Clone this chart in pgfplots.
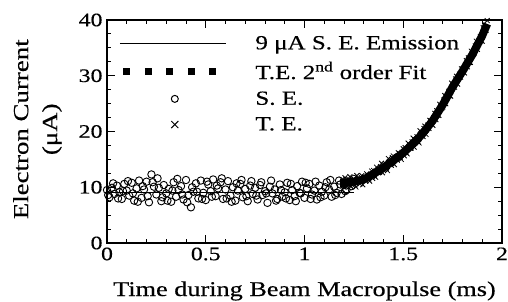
\documentclass[border=0pt]{standalone}
\usepackage{pgfplots}
\pgfplotsset{compat=1.18}
\usepackage{fontspec}
\setmainfont{Liberation Serif}[FakeStretch=1.25, FakeBold=0.4]

\pgfplotstableread{
t y
0.000 9.5
0.0125 8.2
0.025 9.9
0.0375 8.8
0.05 10.3
0.0625 9.1
0.075 7.9
0.0875 10.6
0.10 9.4
0.1125 8.5
0.125 10.8
0.1375 7.6
0.15 9.8
0.1625 11.2
0.175 8.1
0.1875 9.6
0.20 11.0
0.2125 7.3
0.225 12.3
0.2375 10.1
0.25 8.7
0.2625 9.9
0.275 7.5
0.2875 10.4
0.30 8.9
0.3125 9.7
0.325 7.4
0.3375 10.9
0.35 8.3
0.3625 9.5
0.375 10.2
0.3875 7.8
0.40 11.3
0.4125 8.6
0.425 6.4
0.4375 9.2
0.45 10.7
0.4625 8.0
0.475 11.2
0.4875 9.0
0.50 7.7
0.5125 10.5
0.525 9.3
0.5375 11.4
0.55 8.4
0.5625 9.8
0.575 10.9
0.5875 7.9
0.60 9.6
0.6125 11.1
0.625 8.5
0.6375 10.0
0.65 7.6
0.6625 9.4
0.675 10.6
0.6875 8.2
0.70 9.7
0.7125 7.5
0.725 10.3
0.7375 8.8
0.75 9.9
0.7625 7.8
0.775 10.4
0.7875 8.6
0.80 9.3
0.8125 7.2
0.825 10.1
0.8375 8.9
0.85 9.6
0.8625 7.9
0.875 10.5
0.8875 8.3
0.90 9.1
0.9125 10.8
0.925 7.7
0.9375 9.5
0.95 8.4
0.9625 10.2
0.975 9.0
0.9875 11.0
1.00 8.1
1.0125 9.8
1.025 10.6
1.0375 8.7
1.05 9.4
1.0625 7.8
1.075 10.3
1.0875 9.2
1.10 8.5
1.1125 10.9
1.125 9.6
1.1375 8.3
1.15 10.1
1.1625 9.0
1.175 11.2
1.1875 8.8
1.20 10.4
1.2125 9.5
1.225 11.0
1.2375 10.2
1.25 11.5
0.006 8.6
0.031 10.7
0.056 8.0
0.081 9.3
0.106 11.1
0.131 8.9
0.156 7.4
0.181 10.2
0.206 8.4
0.231 10.9
0.256 11.6
0.281 8.2
0.306 7.6
0.331 9.4
0.356 11.5
0.381 8.7
0.406 7.3
0.431 10.0
0.456 9.2
0.481 7.9
0.506 11.0
0.531 8.3
0.556 10.3
0.581 11.6
0.606 8.0
0.631 7.4
0.656 10.7
0.681 11.3
0.706 8.4
0.731 11.1
0.756 8.5
0.781 10.9
0.806 8.9
0.831 11.2
0.856 7.6
0.881 9.5
0.906 8.0
0.931 10.6
0.956 7.5
0.981 8.9
1.006 10.8
1.031 7.9
1.056 11.0
1.081 8.2
1.106 10.0
1.131 11.3
1.156 8.6
1.181 10.5
1.206 9.3
1.231 10.8
}\SEdata

\pgfplotstableread{
t y
1.19 11.4
1.195 10.3
1.20 10.0
1.205 11.7
1.21 11.05
1.215 10.6
1.22 10.5
1.225 11.4
1.23 11.9
1.235 10.1
1.24 10.75
1.245 11.1
1.25 11.5
1.255 10.4
1.26 10.05
1.265 12.1
1.27 11.4
1.275 11.05
1.28 10.6
1.285 11.85
1.29 12.1
1.295 10.45
1.30 11.4
1.305 11.8
1.31 11.1
1.315 12.4
1.32 12.2
1.325 11.5
1.33 11.1
1.335 12.3
1.34 12.9
1.345 11.6
1.35 13.0
1.355 12.0
1.36 11.8
1.365 13.6
1.37 13.05
1.375 12.65
1.38 12.65
1.385 13.7
1.39 14.3
1.395 12.6
1.40 13.3
1.405 13.7
1.41 14.25
1.415 13.3
1.42 13.0
1.425 15.15
1.43 14.6
1.435 14.3
1.44 13.95
1.445 15.3
1.45 15.6
1.455 14.05
1.46 15.1
1.465 15.5
1.47 14.85
1.475 16.2
1.48 16.05
1.485 15.4
1.49 15.0
1.495 16.25
1.50 16.9
1.505 15.65
1.51 17.1
1.515 16.15
1.52 16.0
1.525 17.9
1.53 17.35
1.535 17.0
1.54 17.05
1.545 18.13
1.55 18.8
1.555 17.2
1.56 18.0
1.565 18.48
1.57 19.05
1.575 18.15
1.58 17.95
1.585 20.13
1.59 19.6
1.595 19.4
1.60 19.1
1.605 20.53
1.61 20.95
1.615 19.48
1.62 20.6
1.625 21.13
1.63 20.55
1.635 21.98
1.64 21.9
1.645 21.35
1.65 21.1
1.655 22.48
1.66 23.25
1.665 22.13
1.67 23.7
1.675 22.9
1.68 22.9
1.685 24.88
1.69 24.45
1.695 24.23
1.70 24.4
1.705 25.63
1.71 26.45
1.715 24.98
1.72 25.9
1.725 26.5
1.73 27.2
1.735 26.43
1.74 26.35
1.745 28.68
1.75 28.3
1.755 28.18
1.76 27.95
1.765 29.43
1.77 29.9
1.775 28.5
1.78 29.7
1.785 30.28
1.79 29.75
1.795 31.23
1.80 31.2
1.805 30.7
1.81 30.5
1.815 31.9
1.82 32.7
1.825 31.6
1.83 33.2
1.835 32.4
1.84 32.4
1.845 34.4
1.85 34.0
1.855 33.85
1.86 34.1
1.865 35.35
1.87 36.2
1.875 34.73
1.88 35.65
1.885 36.3
1.89 37.05
1.895 36.28
1.90 36.2
1.905 38.6
1.91 38.3
1.915 38.3
1.92 38.2
1.925 39.9
}\TEdata

\pgfplotstableread{
t y
1.18 10.8
1.20 10.8
1.25 11.0
1.30 11.4
1.35 12.4
1.40 13.5
1.45 14.8
1.50 16.2
1.55 17.8
1.60 19.7
1.65 22.0
1.70 24.8
1.75 28.0
1.80 30.8
1.85 33.8
1.90 37.2
1.925 39.3
}\FITdata

\begin{document}
\begin{tikzpicture}
\begin{axis}[
  scale only axis, width=395pt, height=223pt,
  xmin=0, xmax=2, ymin=0, ymax=40,
  xtick={0,0.5,1,1.5,2}, ytick={0,10,20,30,40},
  minor x tick num=4, minor y tick num=3,
  tick align=inside,
  major tick length=8pt, minor tick length=4pt,
  axis line style={line width=1.3pt},
  every tick/.style={black, line width=1pt},
  /pgf/number format/assume math mode=true,
  tick label style={font=\fontsize{19}{22}\selectfont},
  xticklabel style={anchor=north, yshift=-1pt},
  yticklabel style={anchor=east, xshift=-1pt},
  xlabel={Time during Beam Macropulse (ms)},
  xlabel style={font=\fontsize{21}{24}\selectfont, at={(axis description cs:0.5,0)}, anchor=center, yshift=-48pt},
  ylabel={Electron Current\\[5pt](μA)},
  ylabel style={font=\fontsize{21.5}{24}\selectfont, align=center, at={(axis description cs:-0.176,0.51)}, anchor=center, rotate=0},
  legend style={at={(axis cs:0.0456,37.7)}, anchor=north west, draw=none, fill=none,
    font=\fontsize{20}{24}\selectfont, row sep=9pt, column sep=28pt,
    nodes={inner sep=1pt}},
  legend cell align=left,
]
\addplot[black, line width=1pt, forget plot] coordinates {(0,9) (1.25,9)};
\addplot[black, line width=8pt, forget plot] table[x=t,y=y] {\FITdata};
\addplot[only marks, mark=o, mark size=3.7pt, black, line width=0.9pt, mark options={fill=white}, forget plot] table[x=t,y=y] {\SEdata};
\addplot[only marks, mark=x, mark size=3.5pt, black, line width=0.8pt, forget plot] table[x=t,y=y] {\TEdata};

\addlegendimage{legend image code/.code={\draw[black,line width=1.2pt] (0pt,0pt) -- (106pt,0pt);}}
\addlegendentry{9 μA S. E. Emission}
\addlegendimage{legend image code/.code={\path[draw=none] (0pt,0pt) -- (106pt,0pt); \draw[black,line width=7pt,dash pattern=on 7pt off 14.5pt] (3.5pt,0pt) -- (100pt,0pt);}}
\addlegendentry{T.E. 2\textsuperscript{nd} order Fit}
\addlegendimage{legend image code/.code={\path[draw=none] (0pt,0pt) -- (106pt,0pt); \path[draw=none] plot[mark=o, mark size=3.5pt, mark options={draw=black, line width=1pt}] coordinates {(55pt,0pt)};}}
\addlegendentry{S. E.}
\addlegendimage{legend image code/.code={\path[draw=none] (0pt,0pt) -- (106pt,0pt); \path[draw=none] plot[mark=x, mark size=5pt, mark options={draw=black, line width=1pt}] coordinates {(55pt,0pt)};}}
\addlegendentry{T. E.}
\end{axis}
\pgfresetboundingbox
\path (-107pt,-59pt) rectangle (401pt,243pt);
\end{tikzpicture}
\end{document}
